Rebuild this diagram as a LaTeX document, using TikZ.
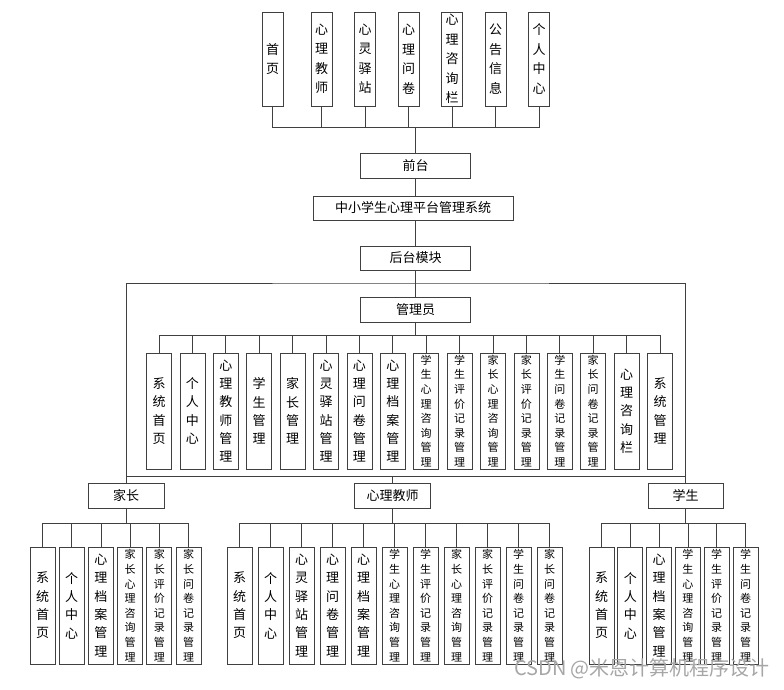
\documentclass[tikz,border=0pt]{standalone}
\usepackage{fontspec}
\newfontfamily\cjk{Noto Sans CJK SC}
\usetikzlibrary{positioning,calc}
\tikzset{
  col/.style={draw=black!75,line width=.8pt,inner sep=0pt,outer sep=0pt,minimum width=21pt,minimum height=94pt,align=center,font=\cjk\fontsize{13}{19.5}\selectfont},
  mod/.style={draw=black!75,line width=.8pt,inner sep=0pt,outer sep=0pt,minimum width=25pt,minimum height=116pt,align=center,font=\cjk\fontsize{13}{18.3}\selectfont},
  modsm/.style={mod,font=\cjk\fontsize{11}{14.6}\selectfont},
  hdr/.style={draw=black!75,line width=.8pt,inner sep=0pt,outer sep=0pt,minimum width=110pt,minimum height=25pt,font=\cjk\fontsize{13}{13}\selectfont},
  wire/.style={draw=black!75,line width=.8pt},
  drop/.style={to path={(\tikztostart.south) -- ++(0,#1) -| (\tikztotarget.north)}},
  rise/.style={to path={(\tikztostart.north) -- ++(0,#1) -| (\tikztotarget.south)}},
}
\begin{document}
\begin{tikzpicture}[x=1pt,y=-1pt]
    \useasboundingbox (0,0) rectangle (784,689);

    % front end pages
    \node[col] (f1) at (272.5,59) {首\\页};
    \node[col,right=28pt of f1] (f2) {心\\理\\教\\师};
    \node[col,right=22.5pt of f2] (f3) {心\\灵\\驿\\站};
    \node[col,right=22.5pt of f3] (f4) {心\\理\\问\\卷};
    \node[col,right=22.5pt of f4] (f5) {心\\理\\咨\\询\\栏};
    \node[col,right=22.5pt of f5] (f6) {公\\告\\信\\息};
    \node[col,right=22.5pt of f6] (f7) {个\\人\\中\\心};

    \node[hdr] (qt) at (415.5,165.5) {前台};
    \node[hdr,minimum width=200pt,minimum height=24pt] (sys) at (413,208) {中小学生心理平台管理系统};
    \node[hdr,minimum height=24pt] (ht) at (415.5,258) {后台模块};
    \node[hdr] (adm) at (415.5,309.5) {管理员};

    % admin modules
    \node[mod] (a1) at (159,411) {系\\统\\首\\页};
    \node[mod,right=8.4pt of a1] (a2) {个\\人\\中\\心};
    \node[mod,right=8.4pt of a2] (a3) {心\\理\\教\\师\\管\\理};
    \node[mod,right=8.4pt of a3] (a4) {学\\生\\管\\理};
    \node[mod,right=8.4pt of a4] (a5) {家\\长\\管\\理};
    \node[mod,right=8.4pt of a5] (a6) {心\\灵\\驿\\站\\管\\理};
    \node[mod,right=8.4pt of a6] (a7) {心\\理\\问\\卷\\管\\理};
    \node[mod,right=8.4pt of a7] (a8) {心\\理\\档\\案\\管\\理};
    \node[modsm,right=8.4pt of a8] (a9) {学\\生\\心\\理\\咨\\询\\管\\理};
    \node[modsm,right=8.4pt of a9] (a10) {学\\生\\评\\价\\记\\录\\管\\理};
    \node[modsm,right=8.4pt of a10] (a11) {家\\长\\心\\理\\咨\\询\\管\\理};
    \node[modsm,right=8.4pt of a11] (a12) {家\\长\\评\\价\\记\\录\\管\\理};
    \node[modsm,right=8.4pt of a12] (a13) {学\\生\\问\\卷\\记\\录\\管\\理};
    \node[modsm,right=8.4pt of a13] (a14) {家\\长\\问\\卷\\记\\录\\管\\理};
    \node[mod,right=8.4pt of a14] (a15) {心\\理\\咨\\询\\栏};
    \node[mod,right=8.4pt of a15] (a16) {系\\统\\管\\理};

    % user roles
    \node[hdr,minimum width=76pt] (jz) at (126,495.5) {家长};
    \node[hdr,minimum width=76pt] (js) at (392.5,495.5) {心理教师};
    \node[hdr,minimum width=75pt] (xs) at (685.5,495.5) {学生};

    % parent modules
    \node[mod,minimum height=117pt] (p1) at (42.5,605.5) {系\\统\\首\\页};
    \node[mod,minimum height=117pt,right=4.2pt of p1] (p2) {个\\人\\中\\心};
    \node[mod,minimum height=117pt,right=4.2pt of p2] (p3) {心\\理\\档\\案\\管\\理};
    \node[modsm,minimum height=117pt,right=4.2pt of p3] (p4) {家\\长\\心\\理\\咨\\询\\管\\理};
    \node[modsm,minimum height=117pt,right=4.2pt of p4] (p5) {家\\长\\评\\价\\记\\录\\管\\理};
    \node[modsm,minimum height=117pt,right=4.2pt of p5] (p6) {家\\长\\问\\卷\\记\\录\\管\\理};

    % teacher modules
    \node[mod,minimum height=117pt] (t1) at (239.5,605.5) {系\\统\\首\\页};
    \node[mod,minimum height=117pt,right=6pt of t1] (t2) {个\\人\\中\\心};
    \node[mod,minimum height=117pt,right=6pt of t2] (t3) {心\\灵\\驿\\站\\管\\理};
    \node[mod,minimum height=117pt,right=6pt of t3] (t4) {心\\理\\问\\卷\\管\\理};
    \node[mod,minimum height=117pt,right=6pt of t4] (t5) {心\\理\\档\\案\\管\\理};
    \node[modsm,minimum height=117pt,right=6pt of t5] (t6) {学\\生\\心\\理\\咨\\询\\管\\理};
    \node[modsm,minimum height=117pt,right=6pt of t6] (t7) {学\\生\\评\\价\\记\\录\\管\\理};
    \node[modsm,minimum height=117pt,right=6pt of t7] (t8) {家\\长\\心\\理\\咨\\询\\管\\理};
    \node[modsm,minimum height=117pt,right=6pt of t8] (t9) {家\\长\\评\\价\\记\\录\\管\\理};
    \node[modsm,minimum height=117pt,right=6pt of t9] (t10) {学\\生\\问\\卷\\记\\录\\管\\理};
    \node[modsm,minimum height=117pt,right=6pt of t10] (t11) {家\\长\\问\\卷\\记\\录\\管\\理};

    % student modules
    \node[mod,minimum height=117pt] (s1) at (601.5,605.5) {系\\统\\首\\页};
    \node[mod,minimum height=117pt,right=3.8pt of s1] (s2) {个\\人\\中\\心};
    \node[mod,minimum height=117pt,right=3.8pt of s2] (s3) {心\\理\\档\\案\\管\\理};
    \node[modsm,minimum height=117pt,right=3.8pt of s3] (s4) {学\\生\\心\\理\\咨\\询\\管\\理};
    \node[modsm,minimum height=117pt,right=3.8pt of s4] (s5) {学\\生\\评\\价\\记\\录\\管\\理};
    \node[modsm,minimum height=117pt,right=3.8pt of s5] (s6) {学\\生\\问\\卷\\记\\录\\管\\理};

    \node[text=black!35,font=\cjk\fontsize{20}{20}\selectfont] (wm) at (642,669) {CSDN @米恩计算机程序设计};

    % trunk and frame
    \draw[wire] (qt.south) -- (qt.south |- sys.north);
    \draw[wire] (qt.south |- sys.south) -- (ht.north);
    \draw[wire] (ht.south) -- (adm.north);
    \draw[wire] (jz.north) |- ($(ht.south)+(0,13)$) -| (xs.north);
    \draw[wire] ($(jz.north)+(0,-7)$) -- ($(xs.north)+(0,-7)$);
    \draw[wire] (js.north) -- ++(0,-7);

    \path[every edge/.style={wire,rise=-26}]
    (qt) edge (f1) edge (f2) edge (f3) edge (f4) edge (f5) edge (f6) edge (f7);

    \path[every edge/.style={wire,drop=13}]
    (adm) edge (a1) edge (a2) edge (a3) edge (a4) edge (a5) edge (a6) edge (a7) edge (a8)
          edge (a9) edge (a10) edge (a11) edge (a12) edge (a13) edge (a14) edge (a15) edge (a16);

    \path[every edge/.style={wire,drop=15}]
    (jz) edge (p1) edge (p2) edge (p3) edge (p4) edge (p5) edge (p6)
    (js) edge (t1) edge (t2) edge (t3) edge (t4) edge (t5) edge (t6)
         edge (t7) edge (t8) edge (t9) edge (t10) edge (t11)
    (xs) edge (s1) edge (s2) edge (s3) edge (s4) edge (s5) edge (s6);
\end{tikzpicture}
\end{document}
